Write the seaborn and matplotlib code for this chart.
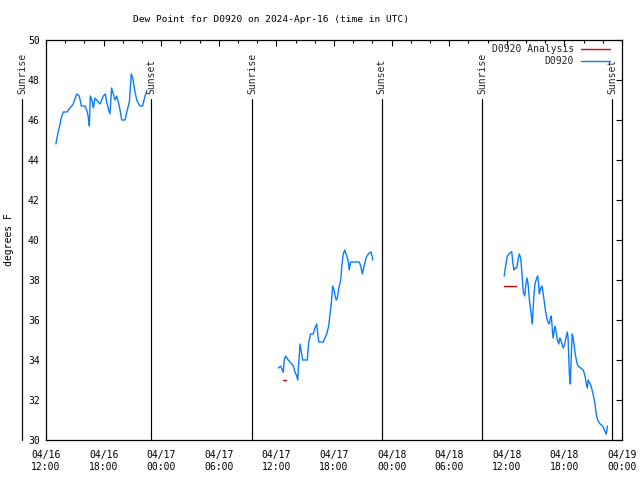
import matplotlib
matplotlib.use("Agg")
import matplotlib.pyplot as plt
import matplotlib.dates as mdates
from matplotlib.lines import Line2D
import seaborn as sns
import pandas as pd

# ---------------- data ----------------
day1_times = ["13:02", "13:11", "13:19", "13:28", "13:35", "13:48", "14:10", "14:30", "14:50",
              "15:12", "15:28", "15:41", "16:05", "16:18", "16:25", "16:31", "16:37", "16:47",
              "16:56", "17:06", "17:17", "17:38", "17:58", "18:11", "18:19", "18:29", "18:40",
              "18:50", "19:01", "19:11", "19:22", "19:32", "19:43", "19:53", "20:14", "20:25",
              "20:41", "20:53", "21:02", "21:14", "21:27", "21:47", "22:04", "22:19", "22:29"]
day1_dew = [44.8, 45.2, 45.5, 45.8, 46.1, 46.4, 46.4, 46.6, 46.8,
            47.3, 47.2, 46.7, 46.7, 46.4, 46.1, 45.7, 47.2, 47.0,
            46.6, 47.1, 47.0, 46.8, 47.2, 47.3, 46.9, 46.6, 46.3,
            47.6, 47.3, 47.0, 47.2, 46.9, 46.5, 46.0, 46.0, 46.4,
            46.9, 48.3, 48.1, 47.5, 47.0, 46.7, 46.7, 47.2, 47.4]

day2_times = ["12:12", "12:27", "12:37", "12:43", "12:49", "12:58", "13:14", "13:35", "13:46",
              "13:56", "14:07", "14:13", "14:19", "14:28", "14:34", "14:44", "15:13", "15:22",
              "15:34", "15:50", "16:01", "16:12", "16:20", "16:25", "16:53", "17:14", "17:27",
              "17:35", "17:43", "17:52", "18:00", "18:13", "18:20", "18:33", "18:42", "18:50",
              "18:58", "19:07", "19:15", "19:28", "19:35", "19:44", "20:38", "20:47", "20:57",
              "21:08", "21:20", "21:34", "21:51", "21:58", "22:02"]
day2_dew = [33.6, 33.7, 33.5, 33.4, 34.0, 34.2, 34.0, 33.8, 33.7,
            33.4, 33.2, 33.0, 33.8, 34.8, 34.5, 34.0, 34.0, 34.9,
            35.3, 35.3, 35.6, 35.8, 35.2, 34.9, 34.9, 35.3, 35.7,
            36.3, 36.8, 37.7, 37.5, 37.0, 37.1, 37.7, 38.0, 38.8,
            39.3, 39.5, 39.3, 39.0, 38.5, 38.9, 38.9, 38.7, 38.3,
            38.7, 39.1, 39.3, 39.4, 39.2, 39.0]

day3_times = ["11:44", "11:49", "11:55", "12:03", "12:14", "12:25", "12:31", "12:37", "12:45",
              "12:51", "13:02", "13:12", "13:18", "13:27", "13:35", "13:43", "13:52", "13:58",
              "14:06", "14:13", "14:20", "14:29", "14:35", "14:40", "14:44", "14:50", "14:56",
              "15:07", "15:13", "15:19", "15:23", "15:32", "15:40", "15:44", "15:53", "16:01",
              "16:10", "16:17", "16:26", "16:32", "16:38", "16:43", "16:49", "16:55", "17:01",
              "17:08", "17:16", "17:25", "17:31", "17:37", "17:45", "17:53", "18:02", "18:10",
              "18:18", "18:23", "18:27", "18:31", "18:37", "18:41", "18:46", "18:49", "18:54",
              "19:00", "19:08", "19:17", "19:25", "19:42", "19:58", "20:09", "20:17", "20:23",
              "20:29", "20:35", "20:42", "20:50", "20:59", "21:07", "21:13", "21:19", "21:28",
              "21:43", "21:59", "22:10", "22:16", "22:22", "22:26", "22:28"]
day3_dew = [38.2, 38.5, 38.8, 39.2, 39.3, 39.4, 39.4, 38.9, 38.5,
            38.6, 38.6, 39.1, 39.3, 39.1, 38.3, 37.4, 37.2, 37.7,
            38.1, 37.8, 37.1, 36.5, 36.1, 35.8, 36.5, 37.3, 37.8,
            38.1, 38.2, 37.8, 37.3, 37.6, 37.7, 37.5, 37.0, 36.5,
            36.1, 35.9, 35.8, 36.1, 36.2, 35.7, 35.1, 35.4, 35.7,
            35.4, 35.0, 34.8, 35.1, 35.0, 34.8, 34.6, 34.8, 35.1,
            35.4, 35.1, 34.2, 33.3, 32.8, 33.8, 34.8, 35.3, 35.1,
            34.8, 34.3, 33.9, 33.7, 33.6, 33.5, 33.2, 32.8, 32.6,
            33.0, 32.9, 32.8, 32.6, 32.3, 32.0, 31.7, 31.3, 31.0,
            30.8, 30.7, 30.5, 30.4, 30.3, 30.5, 30.7]

day_dates = ["2024-04-16", "2024-04-17", "2024-04-18"]

analysis_times = ["2024-04-17 12:40", "2024-04-17 13:00", "2024-04-18 11:44", "2024-04-18 12:58"]
analysis_dew = [33.0, 33.0, 37.7, 37.7]
analysis_seg = [1, 1, 2, 2]

sunrise_times = ["2024-04-16 09:31", "2024-04-17 09:29", "2024-04-18 09:27"]
sunset_times = ["2024-04-16 22:56", "2024-04-17 22:57", "2024-04-18 22:58"]

station = "D0920"
title = "Dew Point for D0920 on 2024-Apr-16 (time in UTC)"

# ---------------- frames ----------------
rows = []
for seg, (d, ts, vs) in enumerate(zip(day_dates,
                                      [day1_times, day2_times, day3_times],
                                      [day1_dew, day2_dew, day3_dew])):
    for t, v in zip(ts, vs):
        rows.append({"time": pd.Timestamp(f"{d} {t}"), "dew": v, "seg": seg})
obs = pd.DataFrame(rows)
ana = pd.DataFrame({"time": pd.to_datetime(analysis_times), "dew": analysis_dew,
                    "seg": analysis_seg})

BLUE = "#0a7cff"
RED = "#e00000"

sns.set_theme(style="white")
plt.rcParams["font.family"] = ["DejaVu Sans Mono", "DejaVu Sans"]

fig = plt.figure(figsize=(6.4, 4.8), dpi=100)
ax = fig.add_axes([46 / 640, 1 - 440 / 480, 576 / 640, 400 / 480])

sns.lineplot(data=obs, x="time", y="dew", units="seg", estimator=None,
             color=BLUE, lw=1.0, ax=ax, legend=False)
sns.lineplot(data=ana, x="time", y="dew", units="seg", estimator=None,
             color=RED, lw=1.0, ax=ax, legend=False)

# sunrise / sunset markers
for t in sunrise_times:
    x = mdates.date2num(pd.Timestamp(t))
    ax.plot([x, x], [30, 47.05], color="black", lw=0.85, clip_on=False)
    ax.text(x, 47.3, "Sunrise", rotation=90, ha="center", va="bottom",
            fontsize=7, clip_on=False)
for t in sunset_times:
    x = mdates.date2num(pd.Timestamp(t))
    ax.plot([x, x], [30, 47.05], color="black", lw=0.85, clip_on=False)
    ax.text(x, 47.3, "Sunset", rotation=90, ha="center", va="bottom",
            fontsize=7, clip_on=False)

ax.set_xlim(pd.Timestamp("2024-04-16 12:00"), pd.Timestamp("2024-04-19 00:00"))
ax.set_ylim(30, 50)
ax.set_yticks(range(30, 51, 2))
ax.xaxis.set_major_locator(mdates.HourLocator(byhour=[0, 6, 12, 18]))
ax.xaxis.set_minor_locator(mdates.HourLocator(interval=2))
ax.xaxis.set_major_formatter(mdates.DateFormatter("%m/%d\n%H:%M"))

ax.tick_params(which="both", direction="in", top=True, right=True,
               color="black", labelsize=7, labelcolor="black")
ax.tick_params(which="major", length=4.5, width=0.8)
ax.tick_params(which="minor", length=2.5, width=0.8)
ax.tick_params(axis="x", which="major", pad=7)
ax.tick_params(axis="y", which="major", pad=4.5)
for lab in ax.get_xticklabels():
    lab.set_linespacing(1.3)

for s in ax.spines.values():
    s.set_visible(True)
    s.set_color("black")
    s.set_linewidth(0.9)

ax.set_xlabel("")
ax.set_ylabel("degrees F", fontsize=7, color="black")
ax.yaxis.set_label_coords(-0.056, 0.5)

fig.text(271 / 640, 1 - 20 / 480, title, ha="center", va="center",
         fontsize=6.8, color="black")

handles = [Line2D([], [], color=RED, lw=1.0), Line2D([], [], color=BLUE, lw=1.0)]
leg = ax.legend(handles, [f"{station} Analysis", station], loc="upper right",
                bbox_to_anchor=(610 / 640, 1 - 44 / 480), bbox_transform=fig.transFigure,
                frameon=False, markerfirst=False, fontsize=7, handlelength=3.0,
                handletextpad=0.7, labelspacing=0.25, borderaxespad=0, borderpad=0)

fig.savefig("out.png", dpi=100)
